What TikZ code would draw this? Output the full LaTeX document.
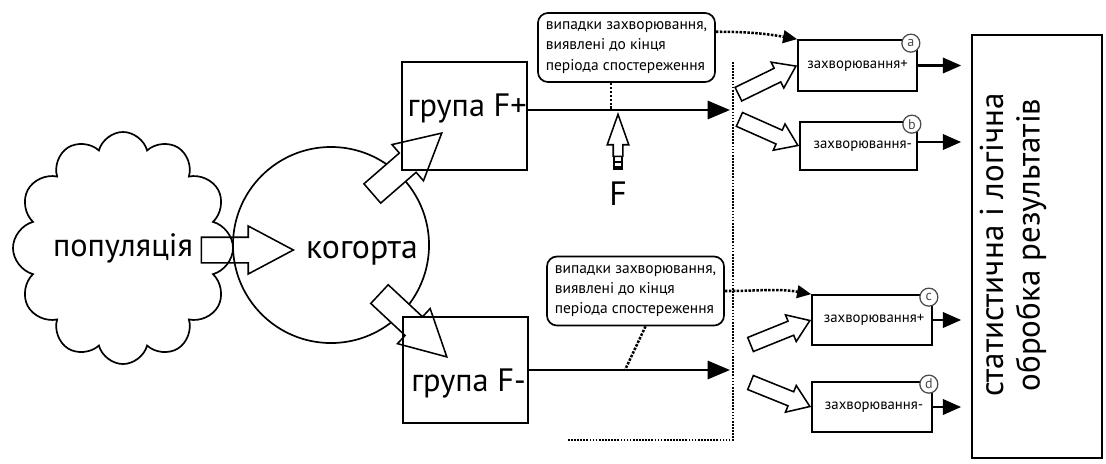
\documentclass[tikz,border=0pt]{standalone}
\usepackage{fontspec}
\setmainfont{PT Sans}
\usetikzlibrary{shapes.symbols, shapes.arrows, arrows.meta, calc}

\tikzset{
  bigtext/.style={font=\fontsize{23}{25}\selectfont, inner sep=0pt},
  blockarrow/.style={single arrow, draw, line width=1.1pt, inner xsep=0pt, inner ysep=0.3cm,
    single arrow head extend=0.28cm, single arrow tip angle=56, minimum height=2.3cm},
  smallarrow/.style={single arrow, draw, fill=white, line width=1.1pt, inner xsep=0pt, inner ysep=0.17cm,
    single arrow head extend=0.17cm, single arrow tip angle=70, minimum height=1.6cm},
  grpbox/.style={draw, line width=1.2pt, minimum width=3.125cm, minimum height=2.7cm, inner sep=0pt},
  notebox/.style={draw, line width=1.2pt, rounded corners=2.5mm, align=left, inner sep=2pt,
    font=\fontsize{11}{14.5}\selectfont, minimum width=4.425cm, minimum height=1.725cm},
  resbox/.style={draw, line width=1.2pt, minimum width=3cm, minimum height=1.25cm, inner sep=0pt,
    font=\fontsize{10.5}{12}\selectfont},
  tag/.style={circle, draw=black!70, fill=white, line width=0.9pt, minimum size=0.45cm, inner sep=0pt,
    text=black!70, font=\fontsize{10}{10}\selectfont},
  flow/.style={line width=1.7pt, -{Triangle[length=16pt, width=13pt]}},
  outflow/.style={line width=1.6pt, -{Triangle[length=13pt, width=11pt]}, shorten >=0.25cm},
  cueline/.style={densely dotted, line width=1.8pt},
  sepline/.style={densely dotted, line width=1.2pt},
}

\begin{document}
\begin{tikzpicture}[x=0.025cm, y=0.025cm]
\useasboundingbox (0,0) rectangle (1106,-463);

    % population and cohort
    \node[cloud, draw, line width=1.2pt, cloud puffs=12, cloud ignores aspect, minimum width=5.5cm, minimum height=5.8cm,
      inner sep=0pt, font=\fontsize{23}{25}\selectfont] (pop) at (123,-248) {популяція};
    \node[circle, draw, line width=1.2pt, minimum size=4.9cm, inner sep=0pt] (coh) at (331,-245) {};
    \node[bigtext, font=\fontsize{24}{26}\selectfont] (cohtext) at (362,-253) {когорта};
    \node[blockarrow, anchor=tip] (arrpop) at (295,-250) {};
    \node[blockarrow, fill=white, rotate=41, anchor=tip] (arrplus) at (443,-132) {};
    \node[blockarrow, fill=white, rotate=-43, anchor=tip] (arrminus) at (448,-358) {};

    % groups
    \node[grpbox] (gplus) at (464.5,-116) {};
    \node[bigtext, anchor=east] (gplustext) at (527,-108) {група F+};
    \node[grpbox, minimum height=2.65cm] (gminus) at (465.5,-370) {};
    \node[bigtext, anchor=east] (gminustext) at (526,-383) {група F-};

    \coordinate (endplus) at (730,-110);
    \coordinate (endminus) at (730,-370);
    \draw[flow] (gplus.east |- endplus) -- (endplus);
    \draw[flow] (gminus.east |- endminus) -- (endminus);

    % factor F
    \node[single arrow, draw, line width=1.1pt, inner xsep=0pt, inner ysep=0.1cm, single arrow head extend=0.15cm,
      single arrow tip angle=39, minimum height=1.05cm, rotate=90, anchor=tip] (farrow) at (618,-112) {};
    \draw[line width=1.1pt] ($(farrow.tail)+(-4,-5)$) -- ++(8,0) ($(farrow.tail)+(-4,-10)$) -- ++(8,0)
      ($(farrow.tail)+(-4,0)$) -- ++(0,-12) -- ++(8,0) -- ++(0,12);
    \node[bigtext, font=\fontsize{24}{26}\selectfont] (ftext) at (618,-194) {F};

    % observed cases
    \node[notebox] (noteplus) at (626.5,-47.5) {випадки захворювання,\\виявлені до кінця\\періода спостереження};
    \node[notebox] (noteminus) at (635.5,-291) {випадки захворювання,\\виявлені до кінця\\періода спостереження};
    \coordinate (tp) at (611,-110);
    \coordinate (tm) at (625,-370);
    \draw[cueline] (noteplus.south -| tp) -- (tp);
    \draw[cueline] ($(noteminus.south)+(10,0)$) -- (tm);

    % end of follow-up
    \coordinate (vtop) at (733,-62);
    \coordinate (vbot) at (733,-440);
    \coordinate (hleft) at (567,-440);
    \draw[sepline] (vtop) -- (vbot) -- (hleft);

    % outcomes
    \node[resbox, minimum height=1.275cm, minimum width=2.975cm] (resa) at (857.5,-65.5) {захворювання+};
    \node[resbox, minimum height=1.2cm, minimum width=2.925cm] (resb) at (858.5,-146) {\hspace*{6pt}захворювання-};
    \node[resbox] (resc) at (872,-320) {\hspace*{3pt}захворювання+};
    \node[resbox] (resd) at (872,-407) {\hspace*{3pt}захворювання-};
    \node[tag] (taga) at ($(resa.north east)+(-7,-4)$) {a};
    \node[tag] (tagb) at ($(resb.north east)+(-6,-3)$) {b};
    \node[tag] (tagc) at ($(resc.north east)+(-4,-3)$) {c};
    \node[tag] (tagd) at ($(resd.north east)+(-4,-3)$) {d};

    \node[smallarrow, rotate=26, anchor=tip] (arra) at (resa.west) {};
    \node[smallarrow, rotate=-24, anchor=tip] (arrb) at (resb.west) {};
    \node[smallarrow, rotate=22, anchor=tip] (arrc) at (resc.west) {};
    \node[smallarrow, rotate=-22, anchor=tip] (arrd) at (resd.west) {};

    \draw[cueline, -{Triangle[length=10pt, width=9pt]}] (noteplus.10) to[out=0, in=170] (resa.north west);
    \draw[cueline, -{Triangle[length=10pt, width=9pt]}] (noteminus.east) to[out=0, in=170] (resc.north west);

    % analysis
    \node[draw, line width=1.2pt, minimum width=3.25cm, minimum height=10.575cm] (stat) at (1037,-246.5) {};
    \node[font=\fontsize{23.5}{26}\selectfont, rotate=90, align=center] (stattext) at (1013,-245)
      {статистична і логічна\\обробка результатів};

    \draw[outflow] (resa.east) -- (resa.east -| stat.west);
    \draw[outflow] ($(resb.east)+(0,4)$) -- ($(resb.east -| stat.west)+(0,4)$);
    \draw[outflow] (resc.east) -- (resc.east -| stat.west);
    \draw[outflow] (resd.east) -- (resd.east -| stat.west);

\end{tikzpicture}
\end{document}
